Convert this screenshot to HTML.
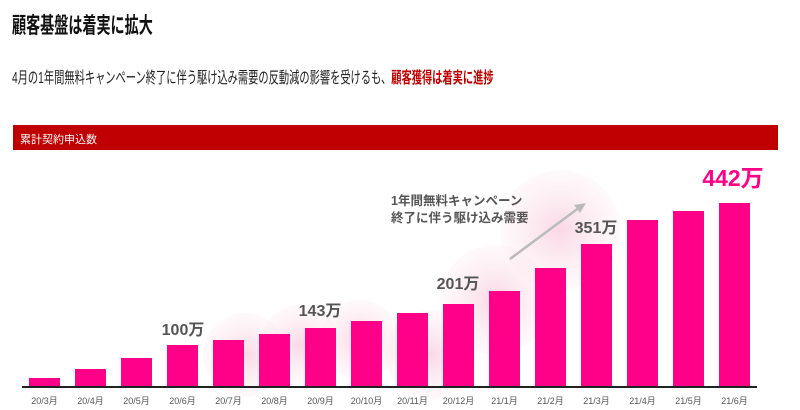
<!DOCTYPE html>
<html><head><meta charset="utf-8"><style>
body{margin:0;width:800px;height:410px;background:#fff;position:relative;overflow:hidden;font-family:"Liberation Sans","Noto Sans CJK JP",sans-serif}
.t{position:absolute;white-space:nowrap;transform-origin:0 0}
</style></head><body>
<div class="t" style="left:12px;top:8px;font-size:22px;font-weight:bold;color:#111;transform:scaleX(0.64)">顧客基盤は着実に拡大</div>
<div class="t" style="left:12px;top:64px;font-size:16px;color:#222;transform:scaleX(0.64)">4月の1年間無料キャンペーン終了に伴う駆け込み需要の反動減の影響を受けるも、<b style="color:#c00000">顧客獲得は着実に進捗</b></div>
<div style="position:absolute;left:13px;top:125px;width:765px;height:25px;background:#c00000"></div>
<div class="t" style="left:20px;top:131px;font-size:11px;color:#fff">累計契約申込数</div>
<svg width="800" height="410" style="position:absolute;left:0;top:0">
<defs><radialGradient id="g"><stop offset="0" stop-color="#f7c6d9" stop-opacity="0.7"/><stop offset="1" stop-color="#fbe3ec" stop-opacity="0.2"/></radialGradient></defs>
<circle cx="245" cy="355" r="42" fill="url(#g)"/>
<circle cx="300" cy="345" r="40" fill="url(#g)"/>
<circle cx="360" cy="340" r="40" fill="url(#g)"/>
<circle cx="430" cy="355" r="45" fill="url(#g)"/>
<circle cx="495" cy="300" r="55" fill="url(#g)"/>
<circle cx="560" cy="230" r="60" fill="url(#g)"/>
<g fill="#ff0088">
<rect x="29" y="378" width="31" height="9"/>
<rect x="75" y="369" width="31" height="18"/>
<rect x="121" y="358" width="31" height="29"/>
<rect x="167" y="345" width="31" height="42"/>
<rect x="213" y="340" width="31" height="47"/>
<rect x="259" y="334" width="31" height="53"/>
<rect x="305" y="328" width="31" height="59"/>
<rect x="351" y="321" width="31" height="66"/>
<rect x="397" y="313" width="31" height="74"/>
<rect x="443" y="304" width="31" height="83"/>
<rect x="489" y="291" width="31" height="96"/>
<rect x="535" y="268" width="31" height="119"/>
<rect x="581" y="244" width="31" height="143"/>
<rect x="627" y="220" width="31" height="167"/>
<rect x="673" y="211" width="31" height="176"/>
<rect x="719" y="203" width="31" height="184"/>
</g>
<line x1="22" y1="387" x2="757" y2="387" stroke="#222" stroke-width="2"/>
<g font-size="9" fill="#555" text-anchor="middle">
<text x="44.5" y="404">20/3月</text><text x="90.5" y="404">20/4月</text><text x="136.5" y="404">20/5月</text><text x="182.5" y="404">20/6月</text>
<text x="228.5" y="404">20/7月</text><text x="274.5" y="404">20/8月</text><text x="320.5" y="404">20/9月</text><text x="366.5" y="404">20/10月</text>
<text x="412.5" y="404">20/11月</text><text x="458.5" y="404">20/12月</text><text x="504.5" y="404">21/1月</text><text x="550.5" y="404">21/2月</text>
<text x="596.5" y="404">21/3月</text><text x="642.5" y="404">21/4月</text><text x="688.5" y="404">21/5月</text><text x="734.5" y="404">21/6月</text>
</g>
<g font-size="16" font-weight="bold" fill="#555" text-anchor="middle">
<text x="183" y="335">100万</text><text x="320" y="316">143万</text><text x="458" y="289">201万</text><text x="596" y="233">351万</text>
</g>
<text x="733" y="186" font-size="23" font-weight="bold" fill="#ff0088" text-anchor="middle">442万</text>
<g font-size="12.5" font-weight="bold" fill="#555">
<text x="391" y="205">1年間無料キャンペーン</text><text x="391" y="222">終了に伴う駆け込み需要</text>
</g>
<line x1="510" y1="259" x2="580" y2="207" stroke="#bbb" stroke-width="2.5"/>
<polygon points="586,203 574,205 580,213" fill="#bbb"/>
</svg>
</body></html>
